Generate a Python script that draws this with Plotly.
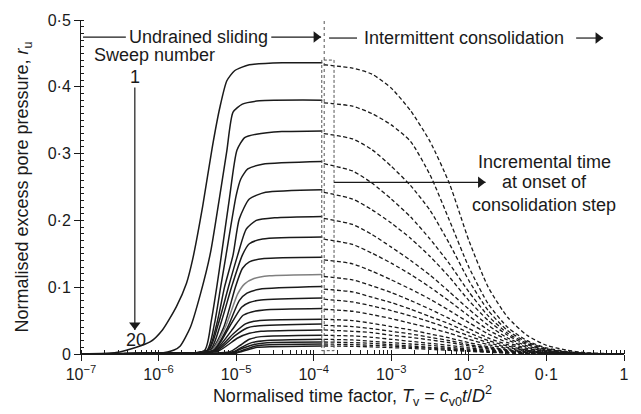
import plotly.graph_objects as go

# ---------------- data (x given as log10 of the time factor) ----------------
SWEEPS = list(range(1, 21))

SOLID_LOGX = [
    [-7.0, -6.5, -6.11, -5.95, -5.77, -5.64, -5.56, -5.43, -5.31, -5.21, -5.12, -5.02, -4.83, -4.4, -3.89],
    [-7.0, -6.0, -5.8, -5.72, -5.59, -5.46, -5.33, -5.22, -5.12, -5.04, -4.92, -4.7, -3.89],
    [-7.0, -6.0, -5.41, -5.32, -5.25, -5.19, -5.09, -4.99, -4.89, -4.74, -4.41, -3.89],
    [-7.0, -6.0, -5.38, -5.28, -5.20, -5.13, -5.00, -4.94, -4.85, -4.66, -3.89],
    [-7.0, -6.0, -5.37, -5.25, -5.15, -5.04, -4.96, -4.83, -4.62, -3.89],
    [-7.0, -6.0, -5.36, -5.23, -5.10, -4.98, -4.87, -4.74, -4.5, -3.89],
    [-7.0, -6.0, -5.34, -5.20, -5.06, -4.92, -4.83, -4.66, -3.89],
    [-7.0, -6.0, -5.33, -5.16, -5.01, -4.92, -4.83, -4.64, -3.89],
    [-7.0, -6.0, -5.32, -5.14, -4.98, -4.89, -4.77, -4.57, -3.89],
    [-7.0, -6.0, -5.30, -5.11, -4.96, -4.86, -4.70, -3.89],
    [-7.0, -6.0, -5.29, -5.09, -4.93, -4.83, -4.68, -3.89],
    [-7.0, -6.0, -5.28, -5.06, -4.91, -4.80, -4.64, -3.89],
    [-7.0, -6.0, -5.27, -5.04, -4.88, -4.77, -4.57, -3.89],
    [-7.0, -6.0, -5.25, -5.01, -4.86, -4.73, -3.89],
    [-7.0, -6.0, -5.24, -4.98, -4.83, -4.68, -3.89],
    [-7.0, -6.0, -5.09, -4.96, -4.83, -4.68, -3.89],
    [-7.0, -6.0, -5.06, -4.93, -4.80, -4.64, -3.89],
    [-7.0, -6.0, -5.05, -4.91, -4.78, -4.60, -3.89],
    [-7.0, -6.0, -5.04, -4.88, -4.75, -4.57, -3.89],
    [-7.0, -6.0, -5.02, -4.86, -4.73, -4.55, -3.89],
]
SOLID_R = [
    [0.0, 0.003, 0.018, 0.036, 0.071, 0.106, 0.142, 0.222, 0.308, 0.369, 0.409, 0.424, 0.433, 0.436, 0.436],
    [0.0, 0.001, 0.006, 0.012, 0.04, 0.09, 0.152, 0.23, 0.304, 0.362, 0.374, 0.379, 0.380],
    [0.0, 0.001, 0.005, 0.05, 0.10, 0.148, 0.23, 0.305, 0.324, 0.329, 0.333, 0.334],
    [0.0, 0.001, 0.005, 0.045, 0.10, 0.148, 0.237, 0.262, 0.277, 0.284, 0.288],
    [0.0, 0.001, 0.005, 0.045, 0.10, 0.148, 0.202, 0.232, 0.242, 0.246],
    [0.0, 0.001, 0.005, 0.045, 0.10, 0.148, 0.187, 0.200, 0.204, 0.206],
    [0.0, 0.001, 0.005, 0.045, 0.10, 0.148, 0.165, 0.172, 0.175],
    [0.0, 0.001, 0.005, 0.04, 0.10, 0.128, 0.138, 0.143, 0.145],
    [0.0, 0.001, 0.005, 0.04, 0.09, 0.105, 0.113, 0.117, 0.119],
    [0.0, 0.001, 0.005, 0.04, 0.08, 0.091, 0.097, 0.101],
    [0.0, 0.001, 0.005, 0.04, 0.07, 0.077, 0.081, 0.084],
    [0.0, 0.001, 0.005, 0.035, 0.058, 0.063, 0.066, 0.068],
    [0.0, 0.001, 0.005, 0.03, 0.045, 0.049, 0.051, 0.052],
    [0.0, 0.001, 0.005, 0.028, 0.039, 0.042, 0.045],
    [0.0, 0.001, 0.004, 0.024, 0.031, 0.034, 0.036],
    [0.0, 0.001, 0.003, 0.012, 0.022, 0.026, 0.028],
    [0.0, 0.001, 0.002, 0.010, 0.017, 0.020, 0.022],
    [0.0, 0.001, 0.002, 0.009, 0.014, 0.017, 0.018],
    [0.0, 0.0008, 0.001, 0.007, 0.012, 0.014, 0.015],
    [0.0, 0.0008, 0.001, 0.006, 0.010, 0.011, 0.012],
]

DASH_LOGX = [-3.87, -3.5, -3.25, -3.0, -2.75, -2.5, -2.25, -2.0, -1.75, -1.5, -1.25, -1.0, -0.75, -0.5, 0.0]
DASH_R = [
    [0.433, 0.428, 0.419, 0.398, 0.364, 0.318, 0.255, 0.170, 0.100, 0.055, 0.028, 0.013, 0.006, 0.002, 0.0],
    [0.376, 0.371, 0.360, 0.343, 0.318, 0.268, 0.200, 0.130, 0.075, 0.040, 0.020, 0.009, 0.004, 0.001, 0.0],
    [0.330, 0.322, 0.306, 0.281, 0.252, 0.215, 0.165, 0.110, 0.065, 0.035, 0.018, 0.008, 0.003, 0.001, 0.0],
    [0.285, 0.274, 0.256, 0.232, 0.205, 0.172, 0.135, 0.093, 0.057, 0.031, 0.016, 0.007, 0.003, 0.001, 0.0],
    [0.242, 0.232, 0.216, 0.196, 0.173, 0.146, 0.115, 0.080, 0.050, 0.028, 0.014, 0.006, 0.002, 0.001, 0.0],
    [0.203, 0.194, 0.179, 0.160, 0.140, 0.118, 0.093, 0.067, 0.043, 0.024, 0.012, 0.0055, 0.002, 0.0006, 0.0],
    [0.172, 0.164, 0.151, 0.136, 0.119, 0.100, 0.079, 0.057, 0.036, 0.021, 0.010, 0.0046, 0.0017, 0.0005, 0.0],
    [0.141, 0.135, 0.124, 0.111, 0.097, 0.082, 0.065, 0.047, 0.030, 0.017, 0.0085, 0.0038, 0.0014, 0.0004, 0.0],
    [0.116, 0.111, 0.102, 0.092, 0.080, 0.067, 0.053, 0.038, 0.024, 0.014, 0.007, 0.0031, 0.0012, 0.0003, 0.0],
    [0.097, 0.093, 0.085, 0.077, 0.067, 0.056, 0.045, 0.032, 0.020, 0.012, 0.0058, 0.0026, 0.001, 0.0003, 0.0],
    [0.082, 0.078, 0.072, 0.065, 0.057, 0.048, 0.038, 0.027, 0.017, 0.0098, 0.0049, 0.0022, 0.0008, 0.0002, 0.0],
    [0.067, 0.064, 0.059, 0.053, 0.046, 0.039, 0.031, 0.022, 0.014, 0.008, 0.004, 0.0018, 0.0007, 0.0002, 0.0],
    [0.052, 0.050, 0.046, 0.041, 0.036, 0.030, 0.024, 0.017, 0.011, 0.0062, 0.0031, 0.0014, 0.0005, 0.0002, 0.0],
    [0.043, 0.041, 0.038, 0.034, 0.030, 0.025, 0.020, 0.014, 0.009, 0.0052, 0.0026, 0.0012, 0.0004, 0.0001, 0.0],
    [0.036, 0.034, 0.032, 0.028, 0.025, 0.021, 0.017, 0.012, 0.0076, 0.0043, 0.0022, 0.001, 0.0004, 0.0001, 0.0],
    [0.028, 0.027, 0.025, 0.022, 0.019, 0.016, 0.013, 0.0092, 0.0059, 0.0034, 0.0017, 0.0008, 0.0003, 0.0001, 0.0],
    [0.022, 0.021, 0.019, 0.017, 0.015, 0.013, 0.010, 0.0073, 0.0046, 0.0026, 0.0013, 0.0006, 0.0002, 0.0001, 0.0],
    [0.018, 0.017, 0.016, 0.014, 0.012, 0.010, 0.0083, 0.0059, 0.0038, 0.0022, 0.0011, 0.0005, 0.0002, 0.0001, 0.0],
    [0.015, 0.014, 0.013, 0.012, 0.010, 0.0087, 0.0069, 0.005, 0.0032, 0.0018, 0.0009, 0.0004, 0.0002, 0.0, 0.0],
    [0.012, 0.0115, 0.0106, 0.0095, 0.0083, 0.007, 0.0055, 0.004, 0.0025, 0.0014, 0.0007, 0.0003, 0.0001, 0.0, 0.0],
]

ONSET_LOGX = -3.865          # dotted line: end of undrained sliding
BOX_LOGX = [-3.896, -3.738]  # dashed box: incremental time at onset of consolidation
BOX_R = [0.005, 0.44]

X_TICK_LOGS = [-7, -6, -5, -4, -3, -2, -1, 0]
X_TICK_TEXT = ["10<sup>−7</sup>", "10<sup>−6</sup>", "10<sup>−5</sup>", "10<sup>−4</sup>",
               "10<sup>−3</sup>", "10<sup>−2</sup>", "0·1", "1"]
Y_TICK_VALS = [0, 0.1, 0.2, 0.3, 0.4, 0.5]
Y_TICK_TEXT = ["0", "0·1", "0·2", "0·3", "0·4", "0·5"]

FONT = "Liberation Sans, Arial, sans-serif"
INK = "#1a1a1a"
DEC_PX = 545 / 7.0     # pixels per decade on the x axis
R_PX = 337 / 0.5       # pixels per unit r_u

fig = go.Figure()

# dashed consolidation curves
for i, ys in enumerate(DASH_R):
    fig.add_trace(go.Scatter(
        x=[10 ** v for v in DASH_LOGX], y=ys, mode="lines",
        line=dict(color=INK, width=1.3, dash="4px,2.5px", shape="spline", smoothing=0.6),
        showlegend=False, hoverinfo="skip"))

# solid undrained-sliding curves
for i, (xs, ys) in enumerate(zip(SOLID_LOGX, SOLID_R)):
    col = "#808080" if SWEEPS[i] == 9 else INK
    fig.add_trace(go.Scatter(
        x=[10 ** v for v in xs], y=ys, mode="lines",
        line=dict(color=col, width=1.5, shape="spline", smoothing=0.6),
        showlegend=False, hoverinfo="skip"))

# dotted onset line and dashed box
fig.add_trace(go.Scatter(
    x=[10 ** ONSET_LOGX, 10 ** ONSET_LOGX], y=[0, 0.5], mode="lines",
    line=dict(color="#555", width=1, dash="dot"), showlegend=False, hoverinfo="skip"))
fig.add_trace(go.Scatter(
    x=[10 ** BOX_LOGX[0], 10 ** BOX_LOGX[1], 10 ** BOX_LOGX[1], 10 ** BOX_LOGX[0], 10 ** BOX_LOGX[0]],
    y=[BOX_R[0], BOX_R[0], BOX_R[1], BOX_R[1], BOX_R[0]], mode="lines",
    line=dict(color="#555", width=1, dash="3px,2px"), showlegend=False, hoverinfo="skip"))


def arrow(lx0, y0, lx1, y1, head=None):
    """Arrow drawn as a line trace plus a triangle marker at the tip (x in log10)."""
    fig.add_trace(go.Scatter(
        x=[10 ** lx0, 10 ** lx1], y=[y0, y1], mode="lines",
        line=dict(color=INK, width=1.2), showlegend=False, hoverinfo="skip"))
    if head == "right":
        fig.add_trace(go.Scatter(
            x=[10 ** (lx1 - 5.0 / DEC_PX)], y=[y1], mode="markers",
            marker=dict(symbol="triangle-right", size=10, color=INK, line=dict(width=0)),
            showlegend=False, hoverinfo="skip"))
    elif head == "down":
        fig.add_trace(go.Scatter(
            x=[10 ** lx1], y=[y1 + 5.0 / R_PX], mode="markers",
            marker=dict(symbol="triangle-down", size=10, color=INK, line=dict(width=0)),
            showlegend=False, hoverinfo="skip"))


ann = []


def label(x, y, t, size=18):
    ann.append(dict(x=x, y=y, xref="x", yref="y", text=t, showarrow=False,
                    font=dict(family=FONT, size=size, color=INK), xanchor="center", yanchor="middle"))


# Undrained sliding
arrow(-6.974, 0.4745, -6.422, 0.4745)
arrow(-4.547, 0.4745, -3.905, 0.4745, head="right")
label(-5.484, 0.4745, "Undrained sliding")
# Intermittent consolidation
arrow(-3.802, 0.473, -3.442, 0.473)
arrow(-0.617, 0.473, -0.270, 0.473, head="right")
label(-2.068, 0.473, "Intermittent consolidation")
# Sweep number
label(-6.05, 0.448, "Sweep number")
label(-6.306, 0.414, "1")
arrow(-6.306, 0.399, -6.306, 0.036, head="down")
label(-6.29, 0.021, "20")
# Incremental time
arrow(-3.738, 0.257, -1.785, 0.257, head="right")
label(-1.028, 0.288, "Incremental time")
label(-1.028, 0.257, "at onset of")
label(-1.028, 0.223, "consolidation step")

fig.update_layout(
    width=641, height=414,
    margin=dict(l=81, r=15, t=17, b=60),
    paper_bgcolor="white", plot_bgcolor="white",
    showlegend=False,
    font=dict(family=FONT, size=16, color=INK),
    annotations=ann,
    xaxis=dict(
        type="log", range=[-7, 0],
        tickvals=[10 ** v for v in X_TICK_LOGS], ticktext=X_TICK_TEXT,
        ticks="outside", ticklen=6, tickwidth=1, tickcolor=INK,
        minor=dict(ticks="inside", ticklen=4, tickwidth=1, tickcolor=INK, dtick="D1", showgrid=False),
        showline=True, linecolor=INK, linewidth=1, showgrid=False, zeroline=False,
        tickfont=dict(size=16),
        title=dict(text="Normalised time factor, <i>T</i><sub>v</sub> = <i>c</i><sub>v0</sub><i>t</i>/<i>D</i><sup>2</sup>",
                   font=dict(size=18), standoff=6),
    ),
    yaxis=dict(
        range=[0, 0.5],
        tickvals=Y_TICK_VALS, ticktext=Y_TICK_TEXT,
        ticks="outside", ticklen=6, tickwidth=1, tickcolor=INK,
        minor=dict(ticks="inside", ticklen=3, tickwidth=1, tickcolor=INK, dtick=0.01, showgrid=False),
        showline=True, linecolor=INK, linewidth=1, showgrid=False, zeroline=False,
        tickfont=dict(size=16),
        title=dict(text="Normalised excess pore pressure, <i>r</i><sub>u</sub>",
                   font=dict(size=18), standoff=14),
    ),
)

fig.write_html("out.html")
